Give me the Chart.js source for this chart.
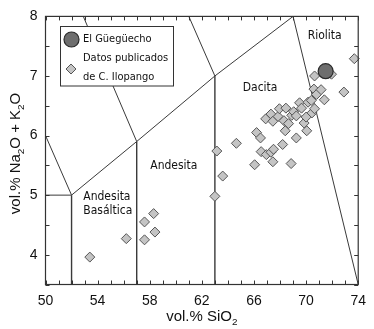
<!DOCTYPE html>
<html><head><meta charset="utf-8">
<script src="https://cdn.jsdelivr.net/npm/chart.js@4/dist/chart.umd.min.js"></script>
<style>html,body{margin:0;padding:0;background:#fff}#wrap{width:374px;height:329px;position:relative}</style>
</head><body><div id="wrap"><canvas id="c" width="374" height="329"></canvas></div>
<script>
// ---- data ----
const xTickLabels = [50, 54, 58, 62, 66, 70, 74];
const yTickLabels = [4, 5, 6, 7, 8];
const gueguechoSiO2 = [71.5];
const gueguechoAlk  = [7.08];
const ilopangoSiO2 = [53.4, 56.2, 57.6, 58.3, 57.6, 58.4,
  63.0, 63.15, 63.6, 64.65,
  66.05, 66.2, 66.5, 66.55, 66.95, 67.3, 67.45, 67.5, 68.2, 68.85, 69.25, 70.05, 68.4,
  66.9, 67.3, 67.45, 67.85, 67.95, 68.3, 68.45, 68.65, 68.9, 69.05, 69.25, 69.5, 69.65,
  69.85, 70.0, 70.15, 70.4, 70.45, 70.65, 70.6, 70.8, 71.15, 71.4, 70.65, 71.95, 72.9, 73.7];
const ilopangoAlk = [3.96, 4.27, 4.55, 4.69, 4.25, 4.38,
  4.98, 5.74, 5.32, 5.87,
  5.51, 6.05, 5.96, 5.73, 5.68, 5.72, 5.56, 5.77, 5.85, 5.53, 5.96, 6.08, 6.08,
  6.28, 6.36, 6.24, 6.32, 6.45, 6.25, 6.46, 6.2, 6.34, 6.4, 6.33, 6.55, 6.46,
  6.21, 6.31, 6.56, 6.59, 6.38, 6.45, 6.78, 6.69, 6.77, 6.6, 7.0, 7.03, 6.73, 7.29];
// TAS field boundaries (SiO2, Na2O+K2O vertices)
const boundarySiO2 = [[50, 52], [50, 52], [52, 52], [52, 57, 63, 69], [57, 57], [63, 63], [57, 52.9], [63, 61], [69, 74]];
const boundaryAlk  = [[6, 5], [5, 5], [3.5, 5], [5, 5.9, 7, 8], [3.5, 5.9], [3.5, 7], [5.9, 8], [7, 8], [8, 3.5]];
// field names and their anchor (SiO2, alkali)
const fieldNames = ['Riolita', 'Dacita', 'Andesita', 'Andesita', 'Basáltica'];
const fieldSiO2  = [71.43, 66.47, 59.85, 52.9, 52.9];
const fieldAlk   = [7.67, 6.8, 5.49, 4.97, 4.73];
const fieldAlign = ['center', 'center', 'center', 'left', 'left'];
const legendLabels = ['El Güegüecho', 'Datos publicados', 'de C. Ilopango'];

const LINE = '#3a3a3a';
const SANS = '"Liberation Sans", Arial, sans-serif';
const LBL = '"DejaVu Sans Condensed", "DejaVu Sans", Verdana, sans-serif';

const datasets = [];
datasets.push({
  label: legendLabels[0], order: 0, clip: false,
  data: gueguechoSiO2.map((x, i) => ({x, y: gueguechoAlk[i]})),
  pointStyle: 'circle', pointRadius: 7.5, backgroundColor: '#6e6e6e', borderColor: '#2a2a2a', borderWidth: 1.2
});
datasets.push({
  label: legendLabels[1], order: 1, clip: false,
  data: ilopangoSiO2.map((x, i) => ({x, y: ilopangoAlk[i]})),
  pointStyle: 'rectRot', pointRadius: 5, backgroundColor: '#c4c4c4', borderColor: '#555', borderWidth: 1
});
boundarySiO2.forEach((xs, k) => {
  datasets.push({
    label: 'b' + k, order: 5, showLine: true, pointRadius: 0, borderColor: LINE,
    borderWidth: (k === 4 || k === 5 || k === 2) ? 1.4 : 1,
    data: xs.map((x, i) => ({x, y: boundaryAlk[k][i]}))
  });
});

function richText(ctx, parts, cx, cy, size) {
  const sub = size * 0.66;
  let total = 0;
  parts.forEach(p => { ctx.font = (p[1] ? sub : size) + 'px ' + SANS; p.w = ctx.measureText(p[0]).width; total += p.w; });
  let x = cx - total / 2;
  ctx.textAlign = 'left'; ctx.textBaseline = 'alphabetic';
  parts.forEach(p => {
    ctx.font = (p[1] ? sub : size) + 'px ' + SANS;
    ctx.fillText(p[0], x, cy + size * 0.36 + (p[1] ? size * 0.22 : 0));
    x += p.w;
  });
}

const decor = {
  id: 'decor',
  afterDatasetsDraw(chart) {
    const ctx = chart.ctx, a = chart.chartArea, xs = chart.scales.x, ys = chart.scales.y;
    ctx.save();
    // frame
    ctx.strokeStyle = '#333'; ctx.lineWidth = 1.2;
    ctx.strokeRect(a.left, a.top, a.right - a.left, a.bottom - a.top);
    // inward ticks
    ctx.lineWidth = 1; ctx.beginPath();
    for (let v = xs.min; v <= xs.max; v += 1) {
      const p = Math.round(xs.getPixelForValue(v)) + 0.5;
      ctx.moveTo(p, a.bottom); ctx.lineTo(p, a.bottom - 4);
      ctx.moveTo(p, a.top); ctx.lineTo(p, a.top + 4);
    }
    for (let v = ys.min; v <= ys.max; v += 0.5) {
      const p = Math.round(ys.getPixelForValue(v)) + 0.5;
      ctx.moveTo(a.left, p); ctx.lineTo(a.left + 4, p);
      ctx.moveTo(a.right, p); ctx.lineTo(a.right - 4, p);
    }
    ctx.stroke();
    // field names
    ctx.fillStyle = '#111';
    ctx.font = '12px ' + LBL; ctx.textBaseline = 'middle';
    fieldNames.forEach((n, i) => {
      ctx.textAlign = fieldAlign[i];
      ctx.fillText(n, xs.getPixelForValue(fieldSiO2[i]), ys.getPixelForValue(fieldAlk[i]));
    });
    // legend
    const lx = 60.5, ly = 26.5, lw = 113, lh = 59.5;
    ctx.fillStyle = '#fff'; ctx.fillRect(lx, ly, lw, lh);
    ctx.strokeStyle = '#333'; ctx.lineWidth = 1; ctx.strokeRect(lx, ly, lw, lh);
    const m0 = datasets[0], m1 = datasets[1];
    ctx.fillStyle = m0.backgroundColor; ctx.strokeStyle = m0.borderColor; ctx.lineWidth = m0.borderWidth;
    ctx.beginPath(); ctx.arc(71.5, 39.5, 7.5, 0, Math.PI * 2); ctx.fill(); ctx.stroke();
    ctx.fillStyle = m1.backgroundColor; ctx.strokeStyle = m1.borderColor; ctx.lineWidth = 1;
    ctx.beginPath(); ctx.moveTo(66, 69); ctx.lineTo(71, 64); ctx.lineTo(76, 69); ctx.lineTo(71, 74); ctx.closePath(); ctx.fill(); ctx.stroke();
    ctx.fillStyle = '#111'; ctx.font = '11px ' + LBL; ctx.textAlign = 'left'; ctx.textBaseline = 'middle';
    ctx.fillText(legendLabels[0], 83, 39.5);
    ctx.fillText(legendLabels[1], 83, 58.5);
    ctx.fillText(legendLabels[2], 83, 77.5);
    // axis titles
    ctx.fillStyle = '#111';
    richText(ctx, [['vol.% SiO'], ['2', true]], (a.left + a.right) / 2, 316, 15);
    ctx.translate(15, (a.top + a.bottom) / 2 + 3);
    ctx.rotate(-Math.PI / 2);
    richText(ctx, [['vol.% Na'], ['2', true], ['O + K'], ['2', true], ['O']], 0, 0, 15);
    ctx.restore();
  }
};

new Chart(document.getElementById('c'), {
  type: 'scatter',
  data: {datasets},
  options: {
    responsive: false, animation: false, devicePixelRatio: 1,
    layout: {padding: {left: 0, top: 10, right: 15.5, bottom: 0}},
    plugins: {legend: {display: false}, tooltip: {enabled: false}},
    scales: {
      x: {
        type: 'linear', min: 50, max: 74,
        afterFit(s) { s.height = 44.5; },
        afterBuildTicks(s) { s.ticks = xTickLabels.map(v => ({value: v})); },
        ticks: {font: {family: SANS, size: 14}, color: '#111', padding: 8, maxRotation: 0, autoSkip: false},
        grid: {display: false, drawTicks: false}, border: {display: false}
      },
      y: {
        type: 'linear', min: 3.5, max: 8,
        afterFit(s) { s.width = 45.5; },
        afterBuildTicks(s) { s.ticks = yTickLabels.map(v => ({value: v})); },
        ticks: {font: {family: SANS, size: 14}, color: '#111', padding: 8, autoSkip: false},
        grid: {display: false, drawTicks: false}, border: {display: false}
      }
    }
  },
  plugins: [decor]
});
</script></body></html>
